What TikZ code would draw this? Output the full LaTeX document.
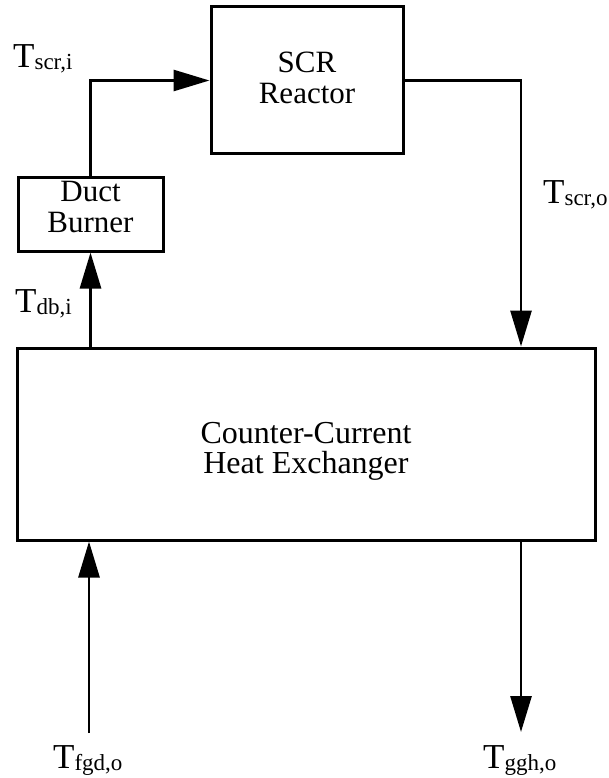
\documentclass[tikz,border=0pt]{standalone}
\usepackage{fontspec}
\setmainfont{Liberation Serif}
\usetikzlibrary{arrows.meta}
\newcommand{\Tlab}[1]{{\fontsize{35}{35}\selectfont T}{\fontsize{23}{23}\selectfont\raisebox{-2pt}{#1}}}
\begin{document}
\begin{tikzpicture}[x=1pt,y=-1pt,
  boxstyle/.style={draw, line width=3pt, inner sep=0pt, align=center,
    font=\fontsize{31}{31}\selectfont},
  arr/.style={line width=2.8pt, -{Triangle[length=36pt,width=21pt]}},
  lbl/.style={anchor=base west, inner sep=0pt}]
\useasboundingbox (0,0) rectangle (608,778);
\node[boxstyle, minimum width=192pt, minimum height=147pt] (scr) at (307,80.5)
  {SCR\\Reactor\rule[-6pt]{0pt}{6pt}};
\node[boxstyle, minimum width=145pt, minimum height=74pt] (duct) at (90.5,214)
  {Duct\\Burner\rule[-14pt]{0pt}{14pt}};
\node[boxstyle, minimum width=578pt, minimum height=192pt,
  font=\fontsize{32}{30}\selectfont] (hx) at (306,444)
  {\rule{0pt}{35pt}Counter-Current\\Heat Exchanger};
\coordinate (fgd) at (89,733);
\coordinate (ggh) at (521,732);
\draw[arr] (duct.north) |- (scr.west);
\draw[arr] (scr.east) -| (ggh |- hx.north);
\draw[arr] (hx.north -| duct.south) -- (duct.south);
\draw[arr] (fgd) -- (fgd |- hx.south);
\draw[arr] (ggh |- hx.south) -- (ggh);
\node[lbl] (lscri) at (13,68) {\Tlab{scr,i}};
\node[lbl] (ldbi) at (15,312) {\Tlab{db,i}};
\node[lbl] (lscro) at (543,203) {\Tlab{scr,o}};
\node[lbl] (lfgdo) at (53,768) {\Tlab{fgd,o}};
\node[lbl] (lggho) at (483,768) {\Tlab{ggh,o}};
\end{tikzpicture}
\end{document}
